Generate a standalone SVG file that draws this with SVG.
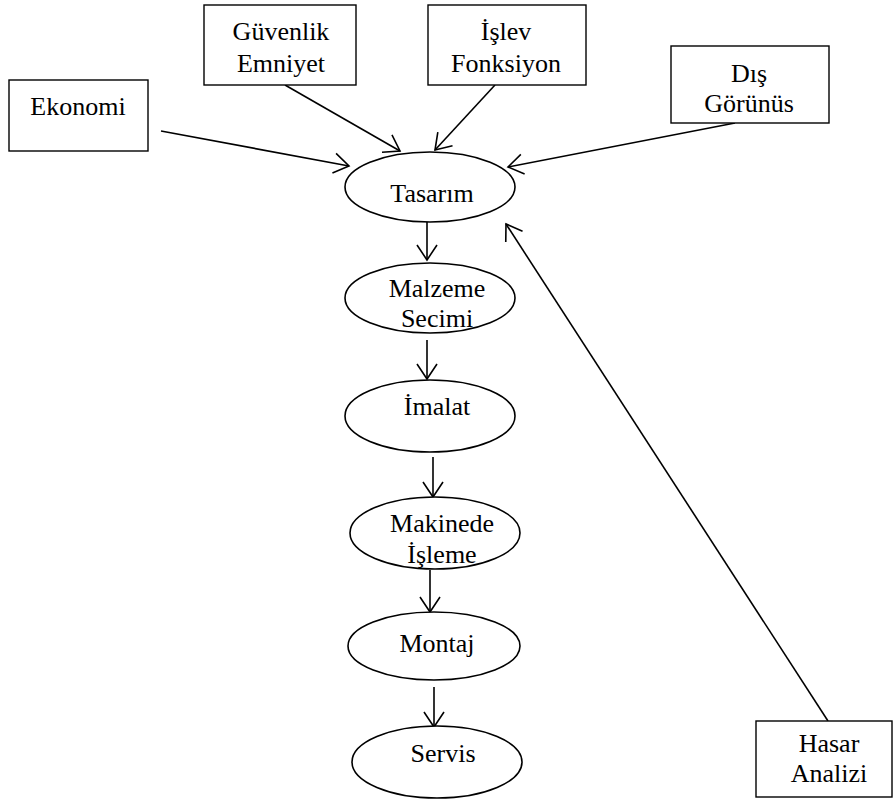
<svg xmlns="http://www.w3.org/2000/svg" width="893" height="803" viewBox="0 0 893 803">
<style>
  .box{fill:#fff;stroke:#000;stroke-width:1.4}
  .ell{fill:#fff;stroke:#000;stroke-width:1.6}
  text{font-family:'Liberation Serif','Times New Roman','DejaVu Serif',serif;font-size:26px;fill:#000;text-anchor:middle}
  .c{stroke:#000;stroke-width:1.6;fill:none;marker-end:url(#ah)}
</style>
<defs>
  <marker id="ah" markerUnits="userSpaceOnUse" markerWidth="40" markerHeight="40" refX="20" refY="20" orient="auto" overflow="visible">
    <path d="M5,10 L20,20 L5,30" fill="none" stroke="#000" stroke-width="1.6"/>
  </marker>
</defs>
<rect width="893" height="803" fill="#fff"/>
<g id="connectors">
  <line class="c" x1="161" y1="131" x2="349" y2="166"/>
  <line class="c" x1="285" y1="85" x2="400" y2="151"/>
  <line class="c" x1="495" y1="85" x2="435" y2="150"/>
  <line class="c" x1="735" y1="123" x2="508" y2="167"/>
  <line class="c" x1="828" y1="721" x2="506" y2="224"/>
  <line class="c" x1="427" y1="222" x2="427" y2="260"/>
  <line class="c" x1="427" y1="340" x2="427" y2="379"/>
  <line class="c" x1="433" y1="457" x2="433" y2="497"/>
  <line class="c" x1="430" y1="570" x2="430" y2="612"/>
  <line class="c" x1="434" y1="687" x2="434" y2="727"/>
</g>
<g id="ekonomi">
  <rect class="box" x="9" y="80" width="139" height="71"/>
  <text font-family="Liberation Serif, serif" x="78" y="115">Ekonomi</text>
</g>
<g id="guvenlik">
  <rect class="box" x="204" y="5" width="152" height="80"/>
  <text font-family="Liberation Serif, serif" x="281" y="40">Güvenlik</text>
  <text font-family="Liberation Serif, serif" x="281" y="72">Emniyet</text>
</g>
<g id="islev">
  <rect class="box" x="428" y="5" width="158" height="80"/>
  <text font-family="Liberation Serif, serif" x="506" y="40">İşlev</text>
  <text font-family="Liberation Serif, serif" x="506" y="72">Fonksiyon</text>
</g>
<g id="dis">
  <rect class="box" x="671" y="46" width="158" height="77"/>
  <text font-family="Liberation Serif, serif" x="749" y="82">Dış</text>
  <text font-family="Liberation Serif, serif" x="749" y="112">Görünüs</text>
</g>
<g id="tasarim">
  <ellipse class="ell" cx="430" cy="187" rx="85" ry="35"/>
  <text font-family="Liberation Serif, serif" x="432" y="202">Tasarım</text>
</g>
<g id="malzeme">
  <ellipse class="ell" cx="430" cy="298" rx="85" ry="35"/>
  <text font-family="Liberation Serif, serif" x="437" y="297">Malzeme</text>
  <text font-family="Liberation Serif, serif" x="437" y="327">Secimi</text>
</g>
<g id="imalat">
  <ellipse class="ell" cx="430" cy="416" rx="85" ry="36"/>
  <text font-family="Liberation Serif, serif" x="437" y="415">İmalat</text>
</g>
<g id="makinede">
  <ellipse class="ell" cx="435" cy="533" rx="85" ry="36"/>
  <text font-family="Liberation Serif, serif" x="442" y="532">Makinede</text>
  <text font-family="Liberation Serif, serif" x="442" y="563">İşleme</text>
</g>
<g id="montaj">
  <ellipse class="ell" cx="434" cy="646" rx="86" ry="34"/>
  <text font-family="Liberation Serif, serif" x="437" y="652">Montaj</text>
</g>
<g id="servis">
  <ellipse class="ell" cx="437" cy="762" rx="85" ry="36"/>
  <text font-family="Liberation Serif, serif" x="443" y="762">Servis</text>
</g>
<g id="hasar">
  <rect class="box" x="756" y="721" width="136" height="76"/>
  <text font-family="Liberation Serif, serif" x="829" y="752">Hasar</text>
  <text font-family="Liberation Serif, serif" x="829" y="782">Analizi</text>
</g>
</svg>
